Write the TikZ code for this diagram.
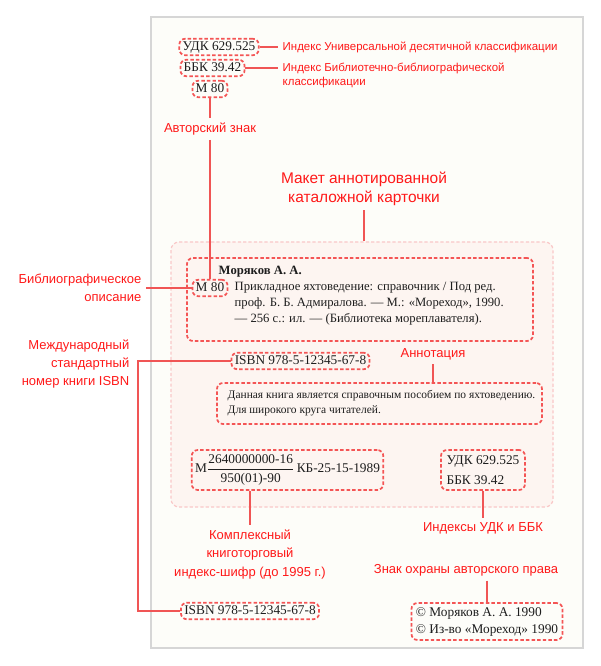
\documentclass[tikz,border=0pt]{standalone}
\usepackage{amsmath}
\usepackage{fontspec}
\setmainfont{Liberation Serif}
\newfontfamily\labelfont{Liberation Sans}

\definecolor{labelred}{RGB}{255,25,25}
\definecolor{linered}{RGB}{240,85,85}
\definecolor{boxred}{RGB}{244,85,85}
\definecolor{inkgray}{RGB}{30,30,30}
\definecolor{cardfill}{RGB}{253,245,241}
\definecolor{carddraw}{RGB}{249,200,200}
\definecolor{pagefill}{RGB}{253,253,249}
\definecolor{pagedraw}{RGB}{214,214,214}

\begin{document}
\begin{tikzpicture}[x=0.75pt, y=-0.75pt,
	every node/.style={font=\fontsize{10}{12}\selectfont, text=inkgray},
	dbox/.style={draw=boxred, line width=1.3pt, dash pattern=on 2.6pt off 1.6pt, rounded corners=4.5pt, inner xsep=2.5pt, inner ysep=1.5pt},
	tbox/.style={dbox, text height=7.2pt, text depth=2.2pt},
	lab/.style={text=labelred, font=\labelfont\fontsize{9.75}{13.5}\selectfont},
	toplab/.style={lab, font=\labelfont\fontsize{8.6}{10.5}\selectfont},
	conn/.style={draw=linered, line width=1.5pt}]
	% sheet
	\fill[white] (0,0) rectangle (600,666);
	\useasboundingbox (0,0) rectangle (600,666);
	\draw[draw=pagedraw, fill=pagefill, line width=1.2pt] (151,17) rectangle (583,648);

	% top of the title page
	\node[tbox] (udk) at (219,47) {УДК 629.525};
	\node[tbox] (bbk) at (212.5,68) {ББК 39.42};
	\node[tbox] (m80top) at (210,89) {М 80};
	\node[toplab, anchor=west] (udklab) at (278,47) {Индекс Универсальной десятичной классификации};
	\node[toplab, anchor=west, align=left] (bbklab) at (278,75) {Индекс Библиотечно-библиографической\\классификации};
	\node[lab] (authlab) at (210,129) {Авторский знак};
	\node[lab, align=center, font=\labelfont\fontsize{11.6}{14.25}\selectfont] (cardlab) at (364,188.5) {Макет аннотированной\\каталожной карточки};

	% the card
	\node[draw=carddraw, fill=cardfill, line width=0.9pt, dash pattern=on 2.4pt off 1.6pt, rounded corners=6pt, minimum width=286.5pt, minimum height=198.75pt] (card) at (362,374.5) {};
	\node[dbox, minimum width=259.5pt, minimum height=62.25pt] (bib) at (360,299.5) {};
	\node[anchor=west, font=\bfseries\fontsize{9.5}{12}\selectfont] (author) at (214,272) {Моряков А. А.};
	\node[tbox] (m80in) at (210,288) {М 80};
	\node[anchor=west, align=left, font=\fontsize{9.5}{12}\selectfont] (bibtext) at (230,304) {Прикладное яхтоведение: справочник / Под ред.\\проф. Б. Б. Адмиралова. — М.: «Мореход», 1990.\\— 256 с.: ил. — (Библиотека мореплавателя).};
	\node[lab, anchor=east, align=right] (biblab) at (146,288) {Библиографическое\\описание};

	\node[tbox] (isbn) at (300.5,361) {ISBN 978-5-12345-67-8};
	\node[lab, anchor=east, align=right] (isbnlab) at (134,364.5) {Международный\\стандартный\\номер книги ISBN};
	\coordinate (isbnturn) at (138,361);

	\node[lab] (annlab) at (433,354) {Аннотация};
	\node[dbox, minimum width=243.75pt, minimum height=30.75pt] (ann) at (379.5,403.5) {};
	\node[anchor=west, align=left, font=\fontsize{8.6}{11.25}\selectfont] (anntext) at (223,403.5) {Данная книга является справочным пособием по яхтоведению.\\Для широкого круга читателей.};

	\node[dbox, minimum width=143.25pt, minimum height=30pt] (idx) at (287.5,470) {М$\displaystyle\frac{\mbox{2640000000-16}}{\mbox{950(01)-90}}$\,КБ-25-15-1989};
	\node[dbox, align=left, minimum width=63pt, minimum height=30pt, font=\fontsize{10}{15}\selectfont] (udkbbk) at (483,470) {УДК 629.525\\ББК 39.42};

	% under the card
	\node[lab, align=center, font=\labelfont\fontsize{9.75}{13.9}\selectfont] (idxlab) at (250,554.5) {Комплексный\\книготорговый\\индекс-шифр (до 1995 г.)};
	\node[lab] (udkbbklab) at (483,528) {Индексы УДК и ББК};
	\node[lab] (copylab) at (466,570) {Знак охраны авторского права};
	\node[dbox, align=left, minimum width=113.25pt, minimum height=27.75pt, font=\fontsize{10}{12.75}\selectfont] (copy) at (487,621.5) {© Моряков А. А. 1990\\© Из-во «Мореход» 1990};
	\node[tbox] (isbnbot) at (250,611) {ISBN 978-5-12345-67-8};

	% connectors
	\draw[conn] (udk.east) -- (udklab.west);
	\draw[conn] (bbk.east) -- (bbk.east -| bbklab.west);
	\draw[conn] (m80top.south) -- (authlab.north);
	\draw[conn] (authlab.south) -- (m80in.north);
	\draw[conn] (cardlab.south) -- (cardlab.south |- card.north);
	\draw[conn] (biblab.east |- m80in.west) -- (m80in.west);
	\draw[conn] (isbn.west) -- (isbnturn) |- (isbnbot.west);
	\draw[conn] (annlab.south) -- (annlab.south |- ann.north);
	\draw[conn] (idxlab.north |- idx.south) -- (idxlab.north);
	\draw[conn] (udkbbk.south) -- (udkbbklab.north);
	\draw[conn] (copy.north |- copylab.south) -- (copy.north);
\end{tikzpicture}
\end{document}
